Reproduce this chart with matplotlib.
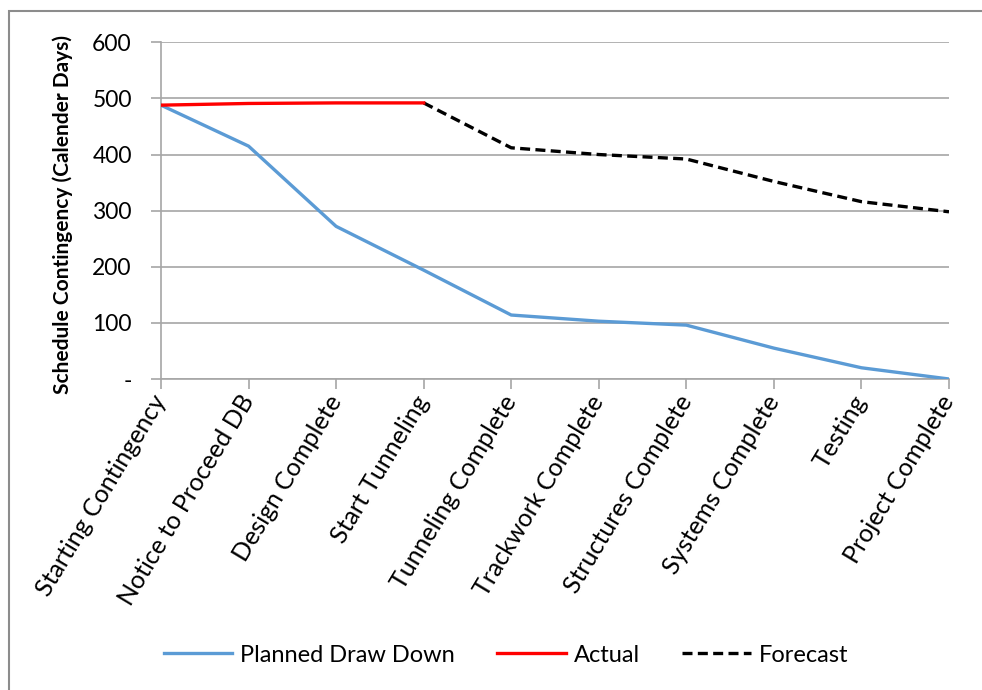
import matplotlib
matplotlib.use("Agg")
import matplotlib.pyplot as plt
from matplotlib.patches import Rectangle

categories = ["Starting Contingency", "Notice to Proceed DB", "Design Complete",
              "Start Tunneling", "Tunneling Complete", "Trackwork Complete",
              "Structures Complete", "Systems Complete", "Testing", "Project Complete"]
planned = [488, 415, 272, 194, 114, 103, 96, 55, 20, 0]
actual_cats = categories[:4]
actual = [488, 491, 492, 492]
forecast_cats = categories[3:]
forecast = [492, 412, 400, 392, 352, 316, 298]
yticks = [0, 100, 200, 300, 400, 500, 600]
ytick_labels = ["-", "100", "200", "300", "400", "500", "600"]

plt.rcParams['font.family'] = ['Lato', 'DejaVu Sans']

fig = plt.figure(figsize=(9.82, 6.9), dpi=100)
ax = fig.add_axes([161/982, 1-379/690, (949-161)/982, (379-42.3)/690])

xi = list(range(len(categories)))
idx = {c: i for i, c in enumerate(categories)}
l1, = ax.plot(xi, planned, color="#5B9BD5", lw=2.4, label="Planned Draw Down", zorder=3)
l2, = ax.plot([idx[c] for c in actual_cats], actual, color="#FF0000", lw=2.4, label="Actual", zorder=4)
l3, = ax.plot([idx[c] for c in forecast_cats], forecast, color="black", lw=2.4,
              ls=(0, (3, 1.6)), label="Forecast", zorder=3)

ax.set_xlim(0, len(categories)-1)
ax.set_ylim(0, 600)
ax.set_yticks(yticks)
ax.set_yticklabels(ytick_labels, fontsize=16.5)
ax.set_xticks(xi)
ax.set_xticklabels(categories, rotation=59, ha="right", va="center",
                   rotation_mode="anchor", fontsize=18)
ax.tick_params(axis="x", length=7, color="#A6A6A6", width=1.2, pad=6)
ax.tick_params(axis="y", length=7, color="#A6A6A6", width=1.2, pad=14)
ax.grid(axis="y", color="#A6A6A6", lw=1.2)
ax.set_axisbelow(True)
for s in ["top", "right"]:
    ax.spines[s].set_visible(False)
for s in ["left", "bottom"]:
    ax.spines[s].set_color("#A6A6A6")
    ax.spines[s].set_linewidth(1.2)

ax.set_ylabel("Schedule Contingency (Calender Days)", fontsize=15, fontweight="bold")
ax.yaxis.set_label_coords(-0.112, 0.49)

fig.legend(handles=[l1, l2, l3], loc="center", bbox_to_anchor=(506/982, 1-655/690),
           ncol=3, frameon=False, fontsize=17, handlelength=2.9, columnspacing=1.8,
           handletextpad=0.34)

fig.patches.append(Rectangle((9/982, -0.1), 1.2, 1-11/690+0.1, transform=fig.transFigure,
                             fill=False, edgecolor="#8C8C8C", lw=1.5))

fig.savefig("out.png", dpi=100)
